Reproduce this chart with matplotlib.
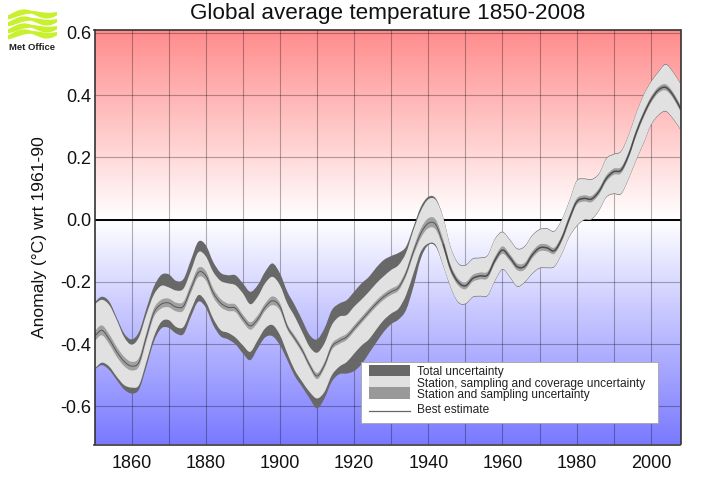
import numpy as np
import matplotlib
matplotlib.use("Agg")
import matplotlib.pyplot as plt
from matplotlib.colors import LinearSegmentedColormap
from matplotlib.patches import Rectangle, Polygon, PathPatch
from matplotlib.path import Path
from matplotlib.lines import Line2D

plt.rcParams['font.family'] = ['Liberation Sans', 'DejaVu Sans']

years = list(range(1850, 2009, 2))
best_estimate = [
 -0.375,-0.356,-0.385,-0.425,-0.456,-0.471,-0.458,-0.377,-0.300,-0.272,-0.268,-0.281,-0.278,-0.222,-0.170,-0.180,
 -0.235,-0.268,-0.282,-0.285,-0.317,-0.342,-0.320,-0.282,-0.261,-0.280,-0.345,-0.382,-0.420,-0.468,-0.503,-0.468,-0.409,-0.390,
 -0.377,-0.350,-0.323,-0.296,-0.270,-0.248,-0.232,-0.218,-0.173,-0.103,-0.044,-0.012,-0.016,-0.077,-0.157,-0.200,-0.213,-0.189,-0.181,-0.178,-0.130,
 -0.098,-0.122,-0.152,-0.150,-0.114,-0.091,-0.091,-0.100,-0.061,0.002,
 0.057,0.068,0.066,0.090,0.132,0.154,0.159,0.207,0.277,0.336,0.384,0.416,0.425,0.400,0.357]
total_upper = [
 -0.266,-0.248,-0.264,-0.315,-0.366,-0.385,-0.361,-0.286,-0.216,-0.178,-0.176,-0.197,-0.191,-0.130,-0.071,-0.082,
 -0.136,-0.171,-0.179,-0.179,-0.205,-0.232,-0.211,-0.168,-0.141,-0.173,-0.232,-0.275,-0.323,-0.371,-0.385,-0.350,-0.291,-0.270,
 -0.259,-0.232,-0.205,-0.184,-0.154,-0.130,-0.117,-0.107,-0.087,-0.023,0.041,0.073,0.068,0.009,-0.087,-0.139,-0.146,-0.125,-0.122,-0.114,-0.061,
 -0.039,-0.064,-0.093,-0.085,-0.050,-0.031,-0.028,-0.036,0.001,0.060,
 0.125,0.132,0.130,0.148,0.197,0.211,0.221,0.272,0.341,0.400,0.443,0.475,0.500,0.475,0.438]
coverage_upper = [
 -0.272,-0.258,-0.275,-0.323,-0.378,-0.402,-0.378,-0.305,-0.242,-0.213,-0.218,-0.228,-0.222,-0.165,-0.105,-0.118,
 -0.168,-0.197,-0.205,-0.211,-0.237,-0.272,-0.248,-0.205,-0.184,-0.211,-0.270,-0.312,-0.361,-0.409,-0.428,-0.398,-0.339,-0.312,
 -0.307,-0.280,-0.257,-0.232,-0.205,-0.182,-0.162,-0.146,-0.107,-0.034,0.028,0.065,0.063,0.007,-0.089,-0.141,-0.148,-0.127,-0.124,-0.116,-0.063,
 -0.041,-0.066,-0.095,-0.087,-0.052,-0.033,-0.030,-0.038,-0.001,0.058,
 0.123,0.130,0.128,0.146,0.195,0.209,0.219,0.270,0.339,0.398,0.441,0.473,0.498,0.473,0.436]
coverage_lower = [
 -0.479,-0.460,-0.473,-0.505,-0.532,-0.540,-0.532,-0.457,-0.377,-0.329,-0.323,-0.345,-0.345,-0.291,-0.243,-0.264,
 -0.318,-0.355,-0.364,-0.379,-0.404,-0.425,-0.388,-0.350,-0.339,-0.371,-0.430,-0.484,-0.521,-0.554,-0.575,-0.554,-0.500,-0.473,
 -0.458,-0.431,-0.405,-0.385,-0.353,-0.323,-0.302,-0.286,-0.243,-0.173,-0.103,-0.077,-0.082,-0.146,-0.216,-0.264,-0.270,-0.248,-0.245,-0.243,-0.195,
 -0.159,-0.184,-0.214,-0.200,-0.173,-0.155,-0.154,-0.150,-0.109,-0.055,
 -0.020,0.000,0.002,0.030,0.073,0.084,0.084,0.132,0.191,0.245,0.304,0.336,0.349,0.325,0.290]
total_lower = [
 -0.482,-0.468,-0.484,-0.516,-0.546,-0.559,-0.546,-0.473,-0.393,-0.350,-0.348,-0.366,-0.368,-0.312,-0.264,-0.283,
 -0.339,-0.375,-0.385,-0.401,-0.430,-0.452,-0.414,-0.379,-0.375,-0.404,-0.452,-0.503,-0.538,-0.575,-0.607,-0.575,-0.521,-0.497,
 -0.495,-0.487,-0.465,-0.430,-0.395,-0.361,-0.336,-0.321,-0.291,-0.216,-0.125,-0.082,-0.087,-0.148,-0.218,-0.266,-0.272,-0.250,-0.247,-0.245,-0.197,
 -0.161,-0.186,-0.216,-0.202,-0.175,-0.157,-0.156,-0.152,-0.111,-0.057,
 -0.022,-0.002,0.000,0.028,0.071,0.082,0.082,0.130,0.189,0.243,0.302,0.334,0.347,0.323,0.288]
station_halfwidth = [
 0.016,0.016,0.016,0.016,0.015,0.014,0.014,0.014,0.014,0.014,0.014,0.014,0.014,0.014,0.015,0.015,
 0.014,0.013,0.012,0.012,0.012,0.012,0.012,0.012,0.014,0.012,0.009,0.009,0.009,0.009,0.010,0.010,0.010,0.010,
 0.010,0.010,0.010,0.010,0.010,0.010,0.010,0.010,0.010,0.012,0.015,0.016,0.016,0.014,0.012,0.011,0.011,0.011,0.011,0.011,0.011,
 0.012,0.011,0.011,0.011,0.011,0.011,0.011,0.010,0.010,0.010,
 0.010,0.010,0.010,0.010,0.010,0.010,0.010,0.010,0.010,0.010,0.010,0.010,0.010,0.010,0.010]
y_ticks = [-0.6, -0.4, -0.2, 0.0, 0.2, 0.4, 0.6]
x_labelled = [1860, 1880, 1900, 1920, 1940, 1960, 1980, 2000]
x_minor = [1870, 1890, 1910, 1930, 1950, 1970, 1990]
legend_labels = ['Total uncertainty', 'Station, sampling and coverage uncertainty',
                 'Station and sampling uncertainty', 'Best estimate']

C_TOTAL, C_COV, C_STAT, C_BEST = '#686868', '#e1e1e1', '#a0a0a0', '#4c4c4c'
W, H = 708, 504
fig = plt.figure(figsize=(W/100, H/100), dpi=100, facecolor='white')
L, R, T, B = 94.5, 680.5, 29.5, 444.5
ax = fig.add_axes([L/W, 1-B/H, (R-L)/W, (B-T)/H])
YMIN, YMAX = -0.723, 0.611
XMIN, XMAX = 1850, 2008

cmap = LinearSegmentedColormap.from_list('bg', [(0, '#7a7aff'), (-YMIN/(YMAX-YMIN), '#ffffff'), (1, '#ff8c8c')])
ax.imshow(np.linspace(1, 0, 256)[:, None], cmap=cmap, aspect='auto', extent=[XMIN, XMAX, YMIN, YMAX], zorder=0, vmin=0, vmax=1)

ax.set_xlim(XMIN, XMAX); ax.set_ylim(YMIN, YMAX)
ax.set_xticks(x_labelled); ax.set_xticks(x_minor, minor=True)
ax.set_yticks(y_ticks); ax.set_yticklabels([f'{v:.1f}' for v in y_ticks])
ax.tick_params(axis='both', which='both', length=0, labelsize=13, colors='#111111')
ax.tick_params(axis='x', pad=7.5)
ax.tick_params(axis='y', pad=2.5)
ax.grid(True, which='both', color='black', alpha=0.3, lw=0.8, zorder=1)
ax.set_axisbelow(True)
for s in ax.spines.values():
    s.set_color('#333333'); s.set_linewidth(1.2); s.set_zorder(10)
ax.axhline(0, color='black', lw=1.4, zorder=2)


def curve(x, y):
    """Bezier segments through the read values (Catmull-Rom tangents)."""
    x = np.asarray(x, float); y = np.asarray(y, float)
    p = np.c_[x, y]
    tan = np.gradient(p, axis=0)
    v = [p[0]]
    for i in range(len(p)-1):
        v += [p[i]+tan[i]/3, p[i+1]-tan[i+1]/3, p[i+1]]
    return np.array(v)


def band(x, lo, hi, color, z):
    up = curve(x, hi)
    dn = curve(x[::-1], lo[::-1])
    verts = np.r_[up, dn, up[:1]]
    codes = [Path.MOVETO] + [Path.CURVE4]*(len(up)-1) + [Path.LINETO] + [Path.CURVE4]*(len(dn)-1) + [Path.CLOSEPOLY]
    ax.add_patch(PathPatch(Path(verts, codes), facecolor=color, edgecolor='none', lw=0, zorder=z))


def line(x, y, lw, z=6):
    v = curve(x, y)
    codes = [Path.MOVETO] + [Path.CURVE4]*(len(v)-1)
    ax.add_patch(PathPatch(Path(v, codes), facecolor='none', edgecolor=C_BEST, lw=lw, zorder=z))


yrs = np.array(years, float)
best = np.array(best_estimate); hw = np.array(station_halfwidth)
band(yrs, np.array(total_lower), np.array(total_upper), C_TOTAL, 3)
band(yrs, np.array(coverage_lower), np.array(coverage_upper), C_COV, 4)
band(yrs, best-hw, best+hw, C_STAT, 5)
split = years.index(1944)
line(yrs[:split+1], best[:split+1], 0.6)
line(yrs[split:], best[split:], 1.1)

fig.text(387.5/W, 1-19/H, 'Global average temperature 1850-2008', ha='center', va='baseline', fontsize=16.2, color='#111111')
fig.text(40/W, 1-237/H, 'Anomaly (°C) wrt 1961-90', rotation=90, ha='center', va='center', fontsize=12.6, color='#111111')


def rect(x0, y0, x1, y1, **kw):
    fig.add_artist(Rectangle((x0/W, 1-y1/H), (x1-x0)/W, (y1-y0)/H, transform=fig.transFigure, **kw))


rect(361, 361.5, 658, 423, facecolor='white', edgecolor='#aaaaaa', lw=0.7, zorder=20)
rect(368.5, 365, 410, 376, facecolor=C_TOTAL, edgecolor='none', zorder=21)
rect(368.5, 376, 410, 387, facecolor=C_COV, edgecolor='none', zorder=21)
rect(368.5, 387, 410, 398.5, facecolor='#999999', edgecolor='none', zorder=21)
fig.add_artist(Line2D([368.5/W, 410/W], [1-411/H, 1-411/H], color='#666666', lw=0.9, zorder=21))
for lab, yy in zip(legend_labels, [372, 383.5, 395, 410]):
    fig.text(417/W, 1-yy/H, lab, ha='left', va='center', fontsize=8.6, color='#222222', zorder=22)

# Met Office logo
LOGO = '#c8f02c'
xs = np.linspace(8, 57, 60)
t = (xs-8)/49
for base in (15.5, 22.5, 29.5, 35.5):
    mid = base + 2.6*np.sin(2*np.pi*(t*1.05+0.25)+0.8) - 3*t
    half = 1.4 + 1.5*np.abs(np.sin(2*np.pi*t*0.9+0.4))
    pts = np.r_[np.c_[xs, mid-half], np.c_[xs[::-1], (mid+half)[::-1]]]
    pts = np.c_[pts[:, 0]/W, 1-pts[:, 1]/H]
    fig.add_artist(Polygon(pts, closed=True, transform=fig.transFigure, facecolor=LOGO, edgecolor='none'))
fig.text(32/W, 1-47.5/H, 'Met Office', ha='center', va='center', fontsize=6.8, fontweight='bold', color='#222222')

fig.savefig('out.png', dpi=100, facecolor='white')
